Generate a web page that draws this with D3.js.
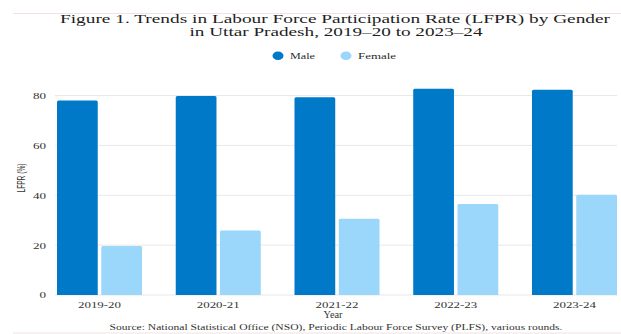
<!DOCTYPE html>
<html>
<head>
    <meta charset="utf-8" />
    <title>LFPR by Gender, Uttar Pradesh</title>
    <script src="https://d3js.org/d3.v7.min.js"></script>
    <style>
        body { margin: 0; background: #fff; }
        text { font-family: "Liberation Serif", "Times New Roman", serif; fill: #2b2b2b; }
        .grid line { stroke: #e8e8e8; stroke-width: 1; }
        .ylab { font-family: "Liberation Sans", Arial, sans-serif; }
    </style>
</head>
<body>
<div id="chart"></div>
<script>
    // data
    var years = ["2019-20", "2020-21", "2021-22", "2022-23", "2023-24"];
    var male = [78.0, 79.8, 79.3, 82.7, 82.3];
    var female = [19.6, 25.9, 30.6, 36.5, 40.2];
    var series = ["Male", "Female"];
    var yTicks = [0, 20, 40, 60, 80];

    var colors = { Male: "#0079c8", Female: "#9bd6fb" };
    var W = 621, H = 334;
    var stretch = 1.45; // the source picture is squeezed wide

    var svg = d3.select("#chart").append("svg")
        .attr("width", W)
        .attr("height", H);

    // widen a text node by a factor, or to a fixed width
    function widen(sel, w) {
        sel.each(function () {
            var len = w || this.getComputedTextLength() * stretch;
            d3.select(this).attr("textLength", len).attr("lengthAdjust", "spacingAndGlyphs");
        });
    }

    // faint frame lines
    svg.append("line").attr("x1", 13).attr("x2", W).attr("y1", 13.5).attr("y2", 13.5)
        .attr("stroke", "#f0e2e2");
    svg.append("line").attr("x1", 13).attr("x2", W).attr("y1", 333).attr("y2", 333)
        .attr("stroke", "#f0e2e2");

    // title
    svg.append("text").attr("x", 335).attr("y", 22.5).attr("text-anchor", "middle")
        .style("font-size", "12.8px").style("fill", "#1e1e1e")
        .text("Figure 1. Trends in Labour Force Participation Rate (LFPR) by Gender")
        .call(widen, 550);
    svg.append("text").attr("x", 336).attr("y", 35.8).attr("text-anchor", "middle")
        .style("font-size", "12.8px").style("fill", "#1e1e1e")
        .text("in Uttar Pradesh, 2019\u201320 to 2023\u201324")
        .call(widen, 293);

    // legend
    var legX = { Male: 278, Female: 346 };
    var legW = { Male: 25, Female: 38 };
    series.forEach(function (s) {
        svg.append("ellipse").attr("cx", legX[s]).attr("cy", 55.7)
            .attr("rx", 5.5).attr("ry", 4.3).attr("fill", colors[s]);
        svg.append("text").attr("x", legX[s] + 12).attr("y", 58.6)
            .style("font-size", "8.5px").text(s)
            .call(widen, legW[s]);
    });

    // scales
    var x0 = d3.scaleBand().domain(years).range([57, 617]).paddingInner(0.284).paddingOuter(0);
    var x1 = d3.scaleBand().domain(series).range([0, x0.bandwidth()]).paddingInner(0.08);
    var y = d3.scaleLinear().domain([0, 80]).range([295, 95.5]);

    // grid
    svg.append("g").attr("class", "grid")
        .selectAll("line").data(yTicks).enter().append("line")
        .attr("x1", 55).attr("x2", 617)
        .attr("y1", function (d) { return y(d); })
        .attr("y2", function (d) { return y(d); });

    // y axis labels
    var yAxis = svg.append("g").attr("transform", "translate(50,0)")
        .call(d3.axisLeft(y).tickValues(yTicks).tickSize(0).tickPadding(4));
    yAxis.select(".domain").remove();
    yAxis.selectAll("text").style("font-size", "9px").style("fill", "#333")
        .style("font-family", "'Liberation Serif', serif")
        .call(widen);

    svg.append("text").attr("class", "ylab")
        .attr("transform", "translate(24.5,178) rotate(-90)")
        .attr("text-anchor", "middle")
        .style("font-size", "10px").style("fill", "#333")
        .text("LFPR (%)")
        .call(widen, 29);

    // bars
    var rows = years.map(function (yr, i) {
        return { year: yr, vals: [{ k: "Male", v: male[i] }, { k: "Female", v: female[i] }] };
    });
    var groups = svg.append("g").selectAll("g").data(rows).enter().append("g")
        .attr("transform", function (d) { return "translate(" + x0(d.year) + ",0)"; });
    groups.selectAll("path").data(function (d) { return d.vals; }).enter().append("path")
        .attr("fill", function (d) { return colors[d.k]; })
        .attr("d", function (d) {
            var bx = x1(d.k), bw = x1.bandwidth(), top = y(d.v), bot = y(0), r = 1.5;
            return "M" + bx + "," + bot + "V" + (top + r) + "Q" + bx + "," + top + " " + (bx + r) + "," + top +
                "H" + (bx + bw - r) + "Q" + (bx + bw) + "," + top + " " + (bx + bw) + "," + (top + r) +
                "V" + bot + "Z";
        });

    // x axis labels
    var xAxis = svg.append("g").attr("transform", "translate(0,295)")
        .call(d3.axisBottom(x0).tickSize(0).tickPadding(7));
    xAxis.select(".domain").remove();
    xAxis.selectAll("text").style("font-size", "9px").style("fill", "#333")
        .style("font-family", "'Liberation Serif', serif")
        .call(widen, 43);

    svg.append("text").attr("x", 333).attr("y", 317.5).attr("text-anchor", "middle")
        .style("font-size", "9.5px").style("fill", "#333").text("Year")
        .call(widen, 19);

    svg.append("text").attr("x", 336).attr("y", 330).attr("text-anchor", "middle")
        .style("font-size", "8.5px").style("fill", "#333")
        .text("Source: National Statistical Office (NSO), Periodic Labour Force Survey (PLFS), various rounds.")
        .call(widen, 453);
</script>
</body>
</html>
